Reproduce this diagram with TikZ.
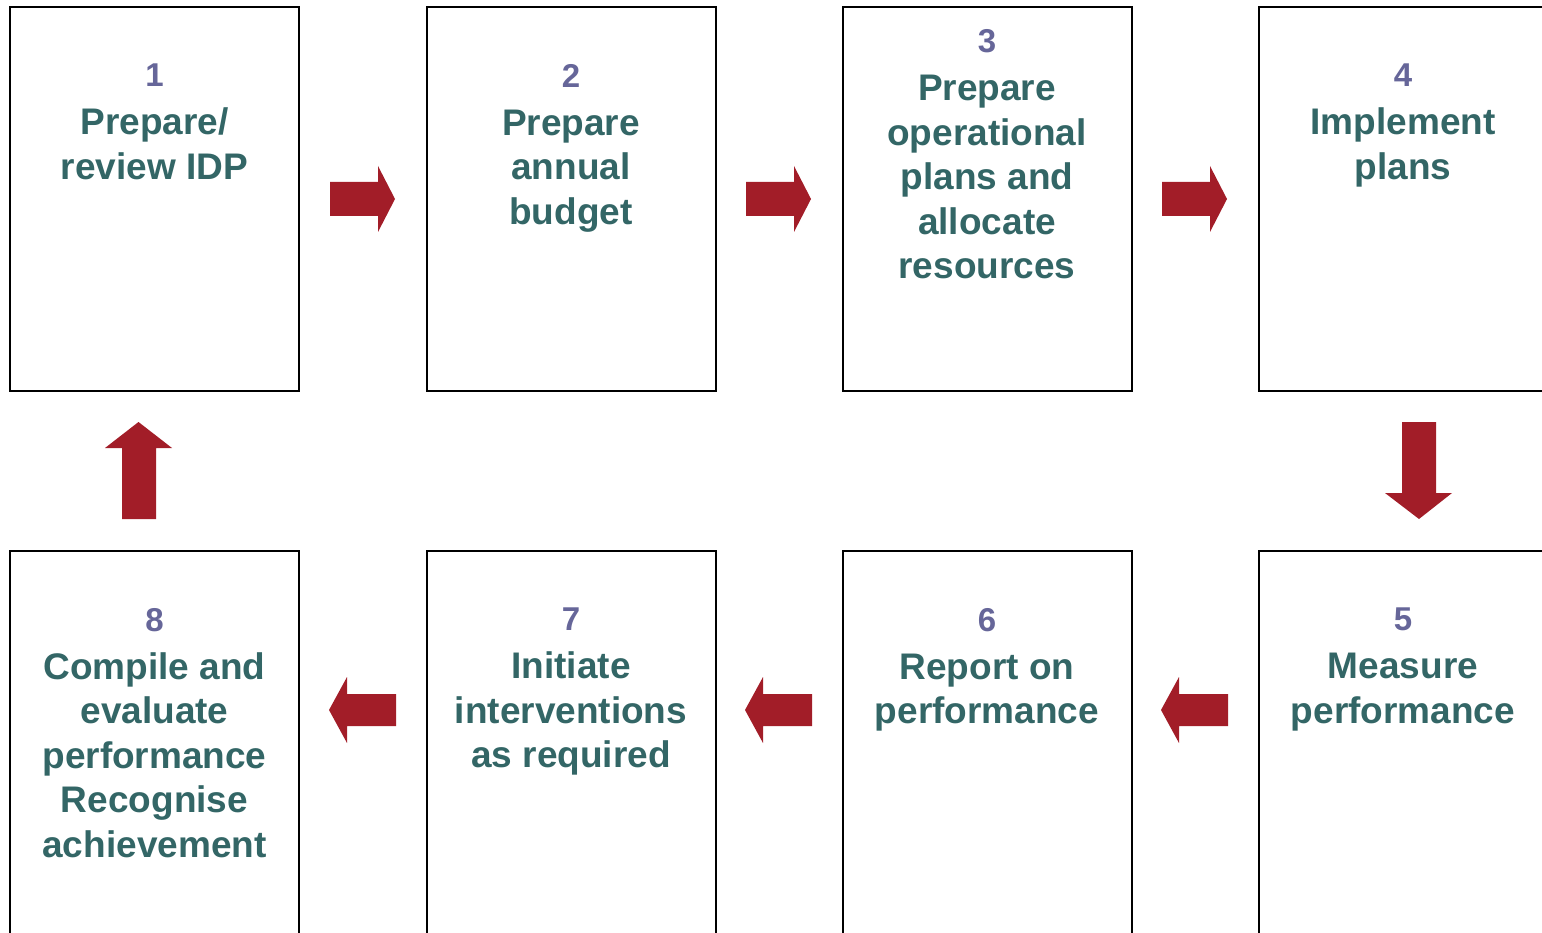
\documentclass[tikz,border=0pt]{standalone}
\usepackage{fontspec}
\setmainfont{Liberation Sans}
\definecolor{txtcol}{RGB}{51,102,102}
\definecolor{numcol}{RGB}{102,102,153}
\definecolor{arrcol}{RGB}{162,29,40}
\newcommand{\numf}[1]{{\fontsize{33}{44.5}\selectfont\color{numcol}#1}\\[3.5pt]}
\tikzset{
  box/.style={draw=black, line width=2pt, fill=white, minimum width=289pt, minimum height=384pt, inner sep=0pt},
  txt/.style={anchor=north, align=center, inner sep=0pt, text=txtcol, font=\fontsize{37}{44.5}\selectfont\bfseries},
  blockarrow/.style={fill=arrcol, draw=none}
}
\begin{document}
\begin{tikzpicture}[x=1pt,y=-1pt]
\useasboundingbox (0,0) rectangle (1542,933);
\clip (0,0) rectangle (1542,933);
% boxes
\node[box] (b1) at (154.5,199) {};
\node[box] (b2) at (571,199) {};
\node[box] (b3) at (987,199) {};
\node[box] (b4) at (1403.5,199) {};
\node[box] (b5) at (1403.5,743) {};
\node[box] (b6) at (987,743) {};
\node[box] (b7) at (571,743) {};
\node[box] (b8) at (154.5,743) {};
% texts
\node[txt] (t1) at (154.5,64) {\numf{1}Prepare/\\review IDP};
\node[txt] (t2) at (571,64) {\numf{2}Prepare\\annual\\budget};
\node[txt] (t3) at (987,29.5) {\numf{3}Prepare\\operational\\plans and\\allocate\\resources};
\node[txt] (t4) at (1403,64) {\numf{4}Implement\\plans};
\node[txt] (t5) at (1403,608) {\numf{5}Measure\\performance};
\node[txt] (t6) at (987,608) {\numf{6}Report on\\performance};
\node[txt] (t7) at (571,608) {\numf{7}Initiate\\interventions\\as required};
\node[txt] (t8) at (154.5,608) {\numf{8}Compile and\\evaluate\\performance\\Recognise\\achievement};
% right arrows (top row)
\foreach \dx in {0,416,832}{
  \fill[blockarrow] (330+\dx,182) -- (378+\dx,182) -- (378+\dx,166) -- (395+\dx,199)
     -- (378+\dx,232) -- (378+\dx,216) -- (330+\dx,216) -- cycle;
}
% left arrows (bottom row)
\foreach \dx in {0,416,832}{
  \fill[blockarrow] (1228-\dx,694) -- (1179-\dx,694) -- (1179-\dx,677) -- (1161-\dx,710)
     -- (1179-\dx,743) -- (1179-\dx,726) -- (1228-\dx,726) -- cycle;
}
% down arrow
\fill[blockarrow] (1402,422) -- (1436,422) -- (1436,493) -- (1452,493) -- (1419,519)
   -- (1385,493) -- (1402,493) -- cycle;
% up arrow
\fill[blockarrow] (122,519) -- (156,519) -- (156,448) -- (172,448) -- (138.5,422)
   -- (105,448) -- (122,448) -- cycle;
\end{tikzpicture}
\end{document}
